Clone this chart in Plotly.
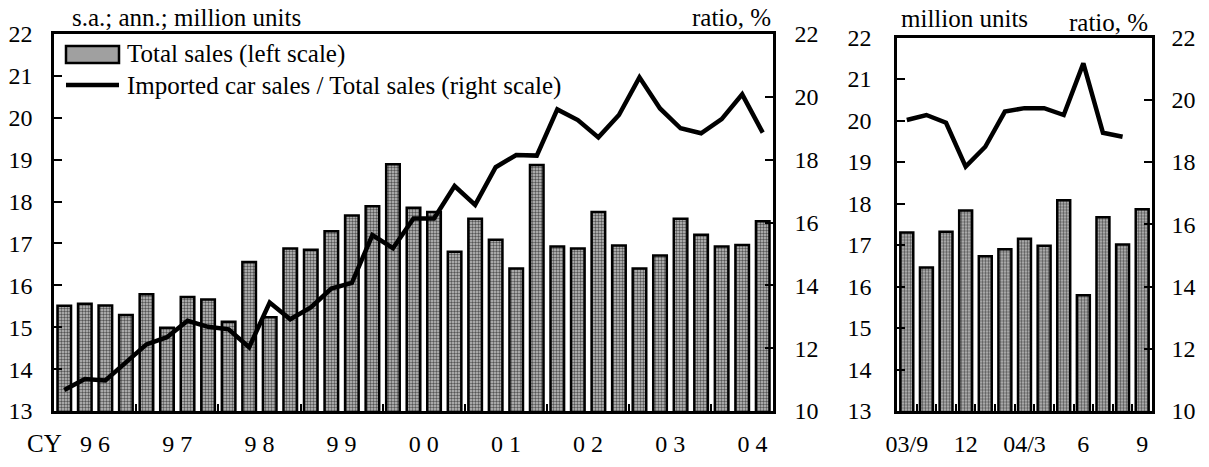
import plotly.graph_objects as go

# ---------------- data ----------------
quarters = [f"{y}Q{q}" for y in ["96", "97", "98", "99", "00", "01", "02", "03", "04"] for q in (1, 2, 3, 4)][:35]
total_sales_q = [15.51, 15.56, 15.52, 15.29, 15.79, 14.99, 15.72, 15.66, 15.13, 16.56,
                 15.24, 16.88, 16.85, 17.29, 17.67, 17.89, 18.89, 17.85, 17.75, 16.80,
                 17.59, 17.09, 16.40, 18.87, 16.93, 16.88, 17.75, 16.95, 16.40, 16.71,
                 17.59, 17.21, 16.93, 16.96, 17.53]
import_ratio_q = [10.67, 11.02, 10.97, 11.54, 12.12, 12.35, 12.87, 12.68, 12.60, 12.03,
                  13.45, 12.92, 13.30, 13.90, 14.08, 15.60, 15.18, 16.13, 16.13, 17.16,
                  16.56, 17.76, 18.15, 18.13, 19.60, 19.26, 18.71, 19.42, 20.62, 19.63,
                  19.00, 18.84, 19.29, 20.08, 18.86]
year_labels = ["9 6", "9 7", "9 8", "9 9", "0 0", "0 1", "0 2", "0 3", "0 4"]

months = ["03/9", "03/10", "03/11", "03/12", "04/1", "04/2", "04/3",
          "04/4", "04/5", "04/6", "04/7", "04/8", "04/9"]
total_sales_m = [17.30, 16.46, 17.32, 17.83, 16.73, 16.90, 17.15, 16.98, 18.08,
                 15.79, 17.67, 17.01, 17.86]
import_ratio_m = [19.35, 19.51, 19.26, 17.85, 18.49, 19.62, 19.73, 19.73, 19.51,
                  21.17, 18.94, 18.81, None]
month_tick_labels = ["03/9", "12", "04/3", "6", "9"]
month_tick_idx = [0, 3, 6, 9, 12]

legend_bar = "Total sales (left scale)"
legend_line = "Imported car sales / Total sales (right scale)"

# ---------------- layout helpers ----------------
W, H = 1209, 467
FONT = "'Liberation Serif', 'Times New Roman', 'DejaVu Serif', serif"
def px_x(x): return x / W
def px_y(y): return (H - y) / H

xq = list(range(len(quarters)))
xm = list(range(len(months)))

bar_marker = dict(color="#a0a0a0",
                  pattern=dict(shape=".", fgcolor="#555555", bgcolor="#c4c4c4",
                               size=3, solidity=0.5),
                  line=dict(color="black", width=2.5))

fig = go.Figure()
fig.add_trace(go.Bar(x=xq, y=total_sales_q, name=legend_bar, marker=bar_marker,
                     width=0.66, xaxis="x", yaxis="y", hovertext=quarters))
fig.add_trace(go.Scatter(x=xq, y=import_ratio_q, name=legend_line, mode="lines",
                         line=dict(color="black", width=4.5), xaxis="x", yaxis="y2",
                         hovertext=quarters))
fig.add_trace(go.Bar(x=xm, y=total_sales_m, name=legend_bar, marker=bar_marker,
                     width=0.66, xaxis="x2", yaxis="y3", hovertext=months, showlegend=False))
fig.add_trace(go.Scatter(x=xm, y=import_ratio_m, name=legend_line, mode="lines",
                         line=dict(color="black", width=4.5), xaxis="x2", yaxis="y4",
                         hovertext=months, showlegend=False))

n_years = len(year_labels)
year_centers = [4 * i + 1.5 for i in range(n_years)]
year_bounds = [4 * i + 3.5 for i in range(n_years - 1)]

axis_common = dict(showline=True, linecolor="black", linewidth=2.5, showgrid=False,
                   zeroline=False, tickcolor="black", tickwidth=2, automargin=False,
                   tickfont=dict(family=FONT, size=24, color="black"))

yb = px_y(411)
fig.update_layout(
    template="none",
    font=dict(family=FONT, color="black"),
    width=W, height=H, margin=dict(l=0, r=0, t=0, b=0, pad=0),
    paper_bgcolor="white", plot_bgcolor="white", showlegend=False,
    barmode="overlay",
    xaxis=dict(axis_common, domain=[px_x(54), px_x(773)], range=[-0.5, len(quarters) - 0.5],
               anchor="y", mirror=True, tickvals=year_centers, ticktext=year_labels,
               ticks="", ticklabelstandoff=9,
               minor=dict(tickvals=year_bounds, ticks="inside", ticklen=7,
                          tickcolor="black", tickwidth=2, showgrid=False)),
    yaxis=dict(axis_common, domain=[yb, px_y(34)], range=[13, 22], dtick=1,
               ticks="inside", ticklen=8, anchor="x", ticklabelstandoff=14),
    yaxis2=dict(axis_common, domain=[yb, px_y(34)], range=[10, 22], dtick=2,
                ticks="inside", ticklen=8, anchor="x", overlaying="y", side="right",
                ticklabelstandoff=14),
    xaxis2=dict(axis_common, domain=[px_x(897), px_x(1152)], range=[-0.5, len(months) - 0.5],
                anchor="y3", mirror=True, tickvals=month_tick_idx, ticktext=month_tick_labels,
                ticks="", ticklabelstandoff=9,
                minor=dict(tickvals=[i + 0.5 for i in range(len(months) - 1)], ticks="inside",
                           ticklen=7, tickcolor="black", tickwidth=2, showgrid=False)),
    yaxis3=dict(axis_common, domain=[yb, px_y(37.5)], range=[13, 22], dtick=1,
                ticks="inside", ticklen=8, anchor="x2", ticklabelstandoff=18),
    yaxis4=dict(axis_common, domain=[yb, px_y(37.5)], range=[10, 22], dtick=2,
                ticks="inside", ticklen=8, anchor="x2", overlaying="y3", side="right",
                ticklabelstandoff=12),
)

def note(text, x, y, xanchor, size=24):
    fig.add_annotation(text=text, x=px_x(x), y=px_y(y), xref="paper", yref="paper",
                       xanchor=xanchor, yanchor="middle", showarrow=False,
                       font=dict(family=FONT, size=size, color="black"))

note("s.a.; ann.; million units", 70, 18, "left", 25)
note("ratio, %", 773, 18, "right", 25)
note("million units", 899, 19, "left", 25)
note("ratio, %", 1150, 22, "right", 25)
note("CY", 25, 443, "left", 25)

# legend drawn by hand
fig.add_shape(type="rect", xref="paper", yref="paper",
              x0=px_x(66), x1=px_x(119), y0=px_y(63), y1=px_y(46),
              fillcolor="#a0a0a0", line=dict(color="black", width=2.5))
fig.add_shape(type="line", xref="paper", yref="paper",
              x0=px_x(66), x1=px_x(119), y0=px_y(85), y1=px_y(85),
              line=dict(color="black", width=4.5))
note(legend_bar, 125, 54, "left", 25)
note(legend_line, 125, 86, "left", 25)

fig.write_html("out.html", config={"displayModeBar": False},
               post_script="document.body.style.margin='0';")
